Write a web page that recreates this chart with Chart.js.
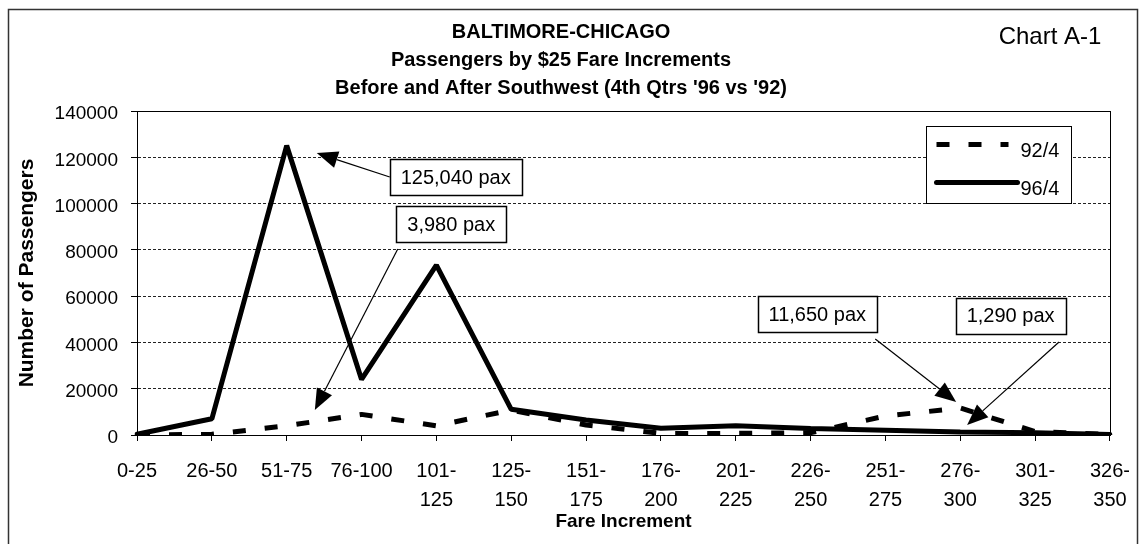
<!DOCTYPE html>
<html>
<head>
<meta charset="utf-8">
<title>Baltimore-Chicago fares</title>
<script src="https://cdn.jsdelivr.net/npm/chart.js@4"></script>
<style>
  html, body { margin: 0; padding: 0; background: #fff; }
  #wrap { position: relative; width: 1146px; height: 544px; }
</style>
</head>
<body>
<div id="wrap"><canvas id="fareChart" width="1146" height="544"></canvas></div>
<script>
// Categorias de tarifa (incrementos de $25)
const fareBins = ['0-25', '26-50', '51-75', '76-100', ['101-', '125'], ['125-', '150'], ['151-', '175'],
  ['176-', '200'], ['201-', '225'], ['226-', '250'], ['251-', '275'], ['276-', '300'], ['301-', '325'], ['326-', '350']];

// Passageiros por trimestre
const pax92 = [0, 300, 3980, 8900, 4000, 10800, 4300, 700, 700, 1000, 8200, 11650, 1500, 200];
const pax96 = [300, 7000, 125040, 24000, 73400, 11100, 6500, 2900, 4000, 2800, 2100, 1290, 1000, 200];

const yTicks = [0, 20000, 40000, 60000, 80000, 100000, 120000, 140000];

// Notas com setas: texto, centro da caixa, início e ponta da seta (índice, valor)
const noteText = ['125,040 pax', '3,980 pax', '11,650 pax', '1,290 pax'];
const noteBox = [[4.258, 111480], [4.198, 90960], [9.089, 52280], [11.672, 51630]];
const noteTail = [[3.377, 111480], [3.484, 80370], [9.864, 41480], [12.319, 40190]];
const noteTip = [[2.402, 121850], [2.376, 10800], [10.945, 14260], [11.091, 4320]];

const FONT = '"Liberation Sans", Arial, sans-serif';

function drawNote(c, xs, ys, i) {
  const x1 = xs.getPixelForValue(noteTail[i][0]), y1 = ys.getPixelForValue(noteTail[i][1]);
  const x2 = xs.getPixelForValue(noteTip[i][0]), y2 = ys.getPixelForValue(noteTip[i][1]);
  const ang = Math.atan2(y2 - y1, x2 - x1);
  const hl = 21, hw = 8.5;
  const bx = x2 - hl * Math.cos(ang), by = y2 - hl * Math.sin(ang);
  c.strokeStyle = '#000';
  c.fillStyle = '#000';
  c.lineWidth = 1.2;
  c.beginPath(); c.moveTo(x1, y1); c.lineTo(bx, by); c.stroke();
  c.beginPath();
  c.moveTo(x2, y2);
  c.lineTo(bx + hw * Math.sin(ang), by - hw * Math.cos(ang));
  c.lineTo(bx - hw * Math.sin(ang), by + hw * Math.cos(ang));
  c.closePath(); c.fill();

  c.font = '20px ' + FONT;
  const w = Math.round(c.measureText(noteText[i]).width + 22), h = 36;
  const cx = xs.getPixelForValue(noteBox[i][0]), cy = ys.getPixelForValue(noteBox[i][1]);
  const left = Math.round(cx - w / 2) + 0.5, top = Math.round(cy - h / 2) + 0.5;
  c.fillStyle = '#fff';
  c.fillRect(left, top, w, h);
  c.lineWidth = 1.5;
  c.strokeRect(left, top, w, h);
  c.fillStyle = '#000';
  c.textAlign = 'center';
  c.textBaseline = 'middle';
  c.fillText(noteText[i], cx, cy + 1);
}

// Plugin para moldura, legenda e notas
const extras = {
  id: 'extras',
  beforeDraw(chart) {
    const c = chart.ctx;
    c.save();
    c.fillStyle = '#fff';
    c.fillRect(0, 0, chart.width, chart.height);
    c.strokeStyle = '#333';
    c.lineWidth = 1.5;
    c.strokeRect(8.5, 9.5, 1129, 600);
    c.restore();
  },
  beforeDatasetsDraw(chart) {
    const a = chart.chartArea, c = chart.ctx;
    c.save();
    c.strokeStyle = '#000';
    c.lineWidth = 1;
    c.strokeRect(Math.round(a.left) + 0.5, Math.round(a.top) + 0.5,
      Math.round(a.right - a.left), Math.round(a.bottom - a.top));
    c.restore();
  },
  afterDraw(chart) {
    const c = chart.ctx, a = chart.chartArea;
    const xs = chart.scales.x, ys = chart.scales.y;
    c.save();

    // "Chart A-1"
    c.fillStyle = '#000';
    c.font = '24px ' + FONT;
    c.textAlign = 'center';
    c.textBaseline = 'middle';
    c.fillText('Chart A-1', 1050, 37);

    // legenda
    const lx = Math.round(a.right) - 184 + 0.5, ly = Math.round(a.top) + 15 + 0.5;
    c.fillStyle = '#fff';
    c.fillRect(lx, ly, 145, 77);
    c.strokeStyle = '#000';
    c.lineWidth = 1;
    c.strokeRect(lx, ly, 145, 77);
    const sets = chart.data.datasets;
    const rows = [[ly + 18, ly + 25], [ly + 56, ly + 63]];
    sets.forEach((ds, k) => {
      c.save();
      c.strokeStyle = ds.borderColor;
      c.lineWidth = ds.borderWidth;
      c.lineCap = ds.borderCapStyle || 'butt';
      c.setLineDash(ds.borderDash || []);
      c.beginPath();
      c.moveTo(lx + 10, rows[k][0]);
      c.lineTo(lx + (k === 0 ? 82 : 91), rows[k][0]);
      c.stroke();
      c.restore();
      c.fillStyle = '#000';
      c.font = '20px ' + FONT;
      c.textAlign = 'left';
      c.textBaseline = 'middle';
      c.fillText(ds.label, lx + 94, rows[k][1]);
    });

    for (let i = 0; i < noteText.length; i++) drawNote(c, xs, ys, i);
    c.restore();
  }
};

const ctx = document.getElementById('fareChart').getContext('2d');
const fareChart = new Chart(ctx, {
  type: 'line',
  data: {
    labels: fareBins,
    datasets: [{
      label: '92/4',
      data: pax92,
      borderColor: '#000',
      borderWidth: 5,
      borderDash: [13, 19],
      borderCapStyle: 'butt',
      borderJoinStyle: 'bevel',
      pointRadius: 0,
      tension: 0,
      fill: false
    }, {
      label: '96/4',
      data: pax96,
      borderColor: '#000',
      borderWidth: 5,
      borderCapStyle: 'round',
      borderJoinStyle: 'bevel',
      pointRadius: 0,
      tension: 0,
      fill: false
    }]
  },
  options: {
    responsive: false,
    animation: false,
    layout: { padding: { left: 11, right: 35, top: 0, bottom: 0 } },
    plugins: {
      legend: { display: false },
      tooltip: { enabled: false },
      title: {
        display: true,
        text: ['BALTIMORE-CHICAGO', 'Passengers by $25 Fare Increments', "Before and After Southwest (4th Qtrs '96 vs '92)"],
        color: '#000',
        font: { family: FONT, size: 20, weight: 'bold', lineHeight: 1.4 },
        padding: { top: 18, bottom: 9 }
      }
    },
    scales: {
      x: {
        offset: false,
        afterFit(s) { s.height = 109; },
        grid: { drawOnChartArea: false, color: '#000', tickLength: 6, lineWidth: 1 },
        border: { color: '#000', width: 1 },
        ticks: {
          color: '#000', autoSkip: false, maxRotation: 0, minRotation: 0, padding: 16,
          font: { family: FONT, size: 20, lineHeight: 1.45 }
        },
        title: {
          display: true, text: 'Fare Increment', color: '#000',
          font: { family: FONT, size: 19, weight: 'bold' },
          padding: { top: 0, bottom: 11 }
        }
      },
      y: {
        min: 0,
        max: 140000,
        afterFit(s) { s.width = 126; },
        afterBuildTicks(s) { s.ticks = yTicks.map(v => ({ value: v })); },
        grid: { color: '#222', lineWidth: 1, tickLength: 6, tickColor: '#000', tickBorderDash: [] },
        border: { color: '#000', width: 1, dash: [3, 2] },
        ticks: {
          color: '#000', padding: 13, labelOffset: 3,
          font: { family: FONT, size: 19 },
          callback: v => String(v)
        },
        title: {
          display: true, text: 'Number of Passengers', color: '#000',
          font: { family: FONT, size: 21, weight: 'bold' },
          padding: { top: 4, bottom: 0 }
        }
      }
    }
  },
  plugins: [extras]
});
</script>
</body>
</html>
